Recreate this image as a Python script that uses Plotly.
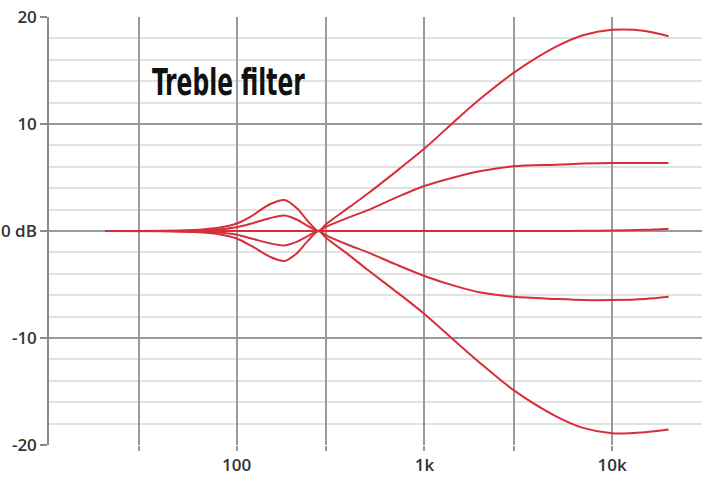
import plotly.graph_objects as go

# frequency points (Hz)
freq = [20, 40, 60, 80, 100, 120, 150, 180, 210, 240, 273, 300, 400, 500,
        700, 1000, 1500, 2000, 3000, 5000, 7000, 10000, 15000, 20000]

# gain (dB) per treble setting
boost_max = [0, 0.02, 0.1, 0.3, 0.7, 1.4, 2.5, 2.9, 2.1, 0.9, 0, 0.65, 2.25, 3.5,
             5.5, 7.7, 10.5, 12.4, 14.8, 17.2, 18.3, 18.8, 18.7, 18.2]
boost_half = [0, 0.01, 0.05, 0.15, 0.35, 0.7, 1.2, 1.45, 1.05, 0.45, 0, 0.4, 1.3, 1.95,
              3.1, 4.2, 5.1, 5.6, 6.05, 6.2, 6.3, 6.35, 6.35, 6.35]
flat = [0, 0, 0, 0, 0, 0, 0, 0, 0, 0, 0, 0, 0, 0,
        0, 0, 0, 0, 0, 0, 0.02, 0.05, 0.12, 0.22]
cut_half = [0, -0.01, -0.05, -0.15, -0.35, -0.7, -1.15, -1.35, -1.0, -0.45, 0, -0.4, -1.35, -2.0,
            -3.1, -4.2, -5.2, -5.75, -6.15, -6.35, -6.45, -6.45, -6.35, -6.15]
cut_max = [0, -0.02, -0.1, -0.3, -0.7, -1.4, -2.4, -2.8, -2.05, -0.9, 0, -0.65, -2.3, -3.65,
           -5.6, -7.75, -10.5, -12.4, -14.9, -17.3, -18.4, -18.9, -18.8, -18.55]

x_ticks = [30, 100, 300, 1000, 3000, 10000]
x_labels = ["", "100", "", "1k", "", "10k"]
y_ticks = [-20, -10, 0, 10, 20]
y_labels = ["-20", "-10", "0 dB", "10", "20"]

RED = "#d62f3a"

fig = go.Figure()
for curve in [boost_max, boost_half, flat, cut_half, cut_max]:
    fig.add_trace(go.Scatter(
        x=freq, y=curve, mode="lines",
        line=dict(color=RED, width=2, shape="spline", smoothing=0.8),
        showlegend=False, hoverinfo="skip",
    ))

fig.add_annotation(
    text="Treble filter", xref="paper", yref="paper",
    x=0.155, y=0.848, xanchor="left", yanchor="middle", showarrow=False,
    font=dict(family="DejaVu Sans Condensed, DejaVu Sans", size=38,
              color="#111111", weight="bold"),
)

fig.update_layout(
    width=710, height=481,
    margin=dict(l=49, r=8, t=17, b=36),
    plot_bgcolor="white", paper_bgcolor="white",
    font=dict(family="Open Sans", size=17, color="#333333", weight=600),
)
fig.update_xaxes(
    type="log", range=[1, 4.479], automargin=False,
    tickvals=x_ticks, ticktext=x_labels,
    showgrid=True, gridcolor="#9a9a9a", gridwidth=1.5,
    ticks="outside", ticklen=5, tickcolor="#9a9a9a", tickwidth=1.5,
    showline=False, zeroline=False,
)
fig.update_yaxes(
    range=[-20, 20], automargin=False,
    tickvals=y_ticks, ticktext=y_labels,
    showgrid=True, gridcolor="#9a9a9a", gridwidth=1.5,
    minor=dict(dtick=2, showgrid=True, gridcolor="#e2e2e2", gridwidth=2),
    ticks="outside", ticklen=7, tickcolor="#8a8a8a", tickwidth=1.5,
    showline=True, linecolor="#8a8a8a", linewidth=1.5,
    zeroline=False,
)

# drop the default page margin, and narrow the title to a condensed look
post = """
document.body.style.margin = '0';
var t = document.querySelector('.annotation-text');
if (t) {
  var b = t.getBBox();
  var s = 153 / b.width;
  t.setAttribute('transform', 'translate(' + b.x + ',0) scale(' + s + ',1) translate(' + (-b.x) + ',0)');
}
"""
fig.write_html("out.html", post_script=post, config={"displayModeBar": False})
